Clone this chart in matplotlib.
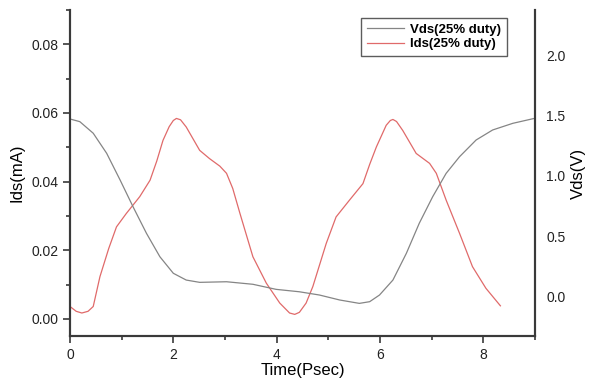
import matplotlib
matplotlib.use('Agg')
import matplotlib.pyplot as plt
from matplotlib.ticker import MultipleLocator

plt.rcParams['font.family'] = ['Liberation Sans', 'DejaVu Sans']

# Ids (left axis, mA)
ids_t = [0.0, 0.12, 0.23, 0.35, 0.45, 0.58, 0.75, 0.90, 1.09, 1.35, 1.55, 1.68,
         1.80, 1.92, 2.0, 2.06, 2.14, 2.25, 2.51, 2.70, 2.90, 3.03, 3.15, 3.29,
         3.54, 3.80, 4.06, 4.25, 4.35, 4.44, 4.57, 4.70, 4.96, 5.15, 5.41, 5.67,
         5.80, 5.93, 6.12, 6.20, 6.25, 6.32, 6.44, 6.70, 6.96, 7.09, 7.28, 7.54,
         7.79, 8.05, 8.33]
ids_val = [0.0036, 0.0022, 0.0017, 0.0022, 0.0036, 0.0123, 0.0205, 0.0268,
           0.0307, 0.0356, 0.0404, 0.0460, 0.052, 0.0560, 0.0578, 0.0584,
           0.0580, 0.0559, 0.0491, 0.0467, 0.0445, 0.0424, 0.0380, 0.0307,
           0.0181, 0.0104, 0.0046, 0.0017, 0.0013, 0.0019, 0.0046, 0.0094,
           0.022, 0.0297, 0.0346, 0.0394, 0.0450, 0.0501, 0.0564, 0.0578,
           0.0581, 0.0575, 0.0549, 0.0482, 0.0453, 0.0424, 0.0346, 0.0249,
           0.0152, 0.0089, 0.0038]

# Vds (right axis, V)
vds_t = [0.0, 0.19, 0.45, 0.71, 0.97, 1.22, 1.48, 1.74, 2.0, 2.25, 2.51, 3.03,
         3.54, 3.99, 4.44, 4.83, 5.22, 5.60, 5.80, 5.99, 6.25, 6.51, 6.76, 7.02,
         7.28, 7.54, 7.86, 8.18, 8.57, 9.0]
vds_val = [1.471, 1.449, 1.353, 1.187, 0.966, 0.745, 0.525, 0.331, 0.194,
           0.138, 0.119, 0.124, 0.103, 0.061, 0.041, 0.014, -0.027, -0.055,
           -0.041, 0.014, 0.138, 0.359, 0.608, 0.828, 1.021, 1.159, 1.297,
           1.380, 1.435, 1.477]

fig = plt.figure(figsize=(5.9, 3.81), dpi=100)
ax = fig.add_axes([0.1186, 0.1181, 0.7882, 0.8557])
ax2 = ax.twinx()

l2, = ax2.plot(vds_t, vds_val, color='#858585', lw=0.9, label='Vds(25% duty)')
l1, = ax.plot(ids_t, ids_val, color='#e06a6a', lw=0.9, label='Ids(25% duty)')

ax.set_xlim(0, 9)
ax.set_ylim(-0.005, 0.09)
ax2.set_ylim(-0.325, 2.373)

ax.xaxis.set_major_locator(MultipleLocator(2))
ax.xaxis.set_minor_locator(MultipleLocator(1))
ax.yaxis.set_major_locator(MultipleLocator(0.02))
ax.yaxis.set_minor_locator(MultipleLocator(0.01))
ax.yaxis.set_major_formatter(plt.FormatStrFormatter('%.2f'))
ax2.yaxis.set_major_locator(MultipleLocator(0.5))
ax2.yaxis.set_major_formatter(plt.FormatStrFormatter('%.1f'))

for a in (ax, ax2):
    a.spines['top'].set_visible(False)
    for s in a.spines.values():
        s.set_linewidth(1.5)
        s.set_color('#3a3a3a')

ax.tick_params(which='major', length=5, width=1.2, labelsize=10,
               colors='#3a3a3a', labelcolor='#222222')
ax.tick_params(which='minor', length=3, width=1.2, colors='#3a3a3a')
ax2.tick_params(axis='y', length=0, labelsize=10, pad=8, labelcolor='#222222')

ax.set_xlabel('Time(Psec)', fontsize=12, labelpad=1)
ax.set_ylabel('Ids(mA)', fontsize=12, labelpad=5)
ax2.set_ylabel('Vds(V)', fontsize=12, labelpad=4)

leg = fig.legend(handles=[l2, l1], loc='upper right', bbox_to_anchor=(0.86, 0.953),
                 prop={'weight': 'bold', 'size': 9.5}, frameon=True, fancybox=False,
                 handlelength=2.8, handletextpad=0.5, borderpad=0.45,
                 labelspacing=0.15, borderaxespad=0)
leg.get_frame().set_edgecolor('#333333')
leg.get_frame().set_linewidth(1.0)

fig.savefig('out.png', dpi=100)
